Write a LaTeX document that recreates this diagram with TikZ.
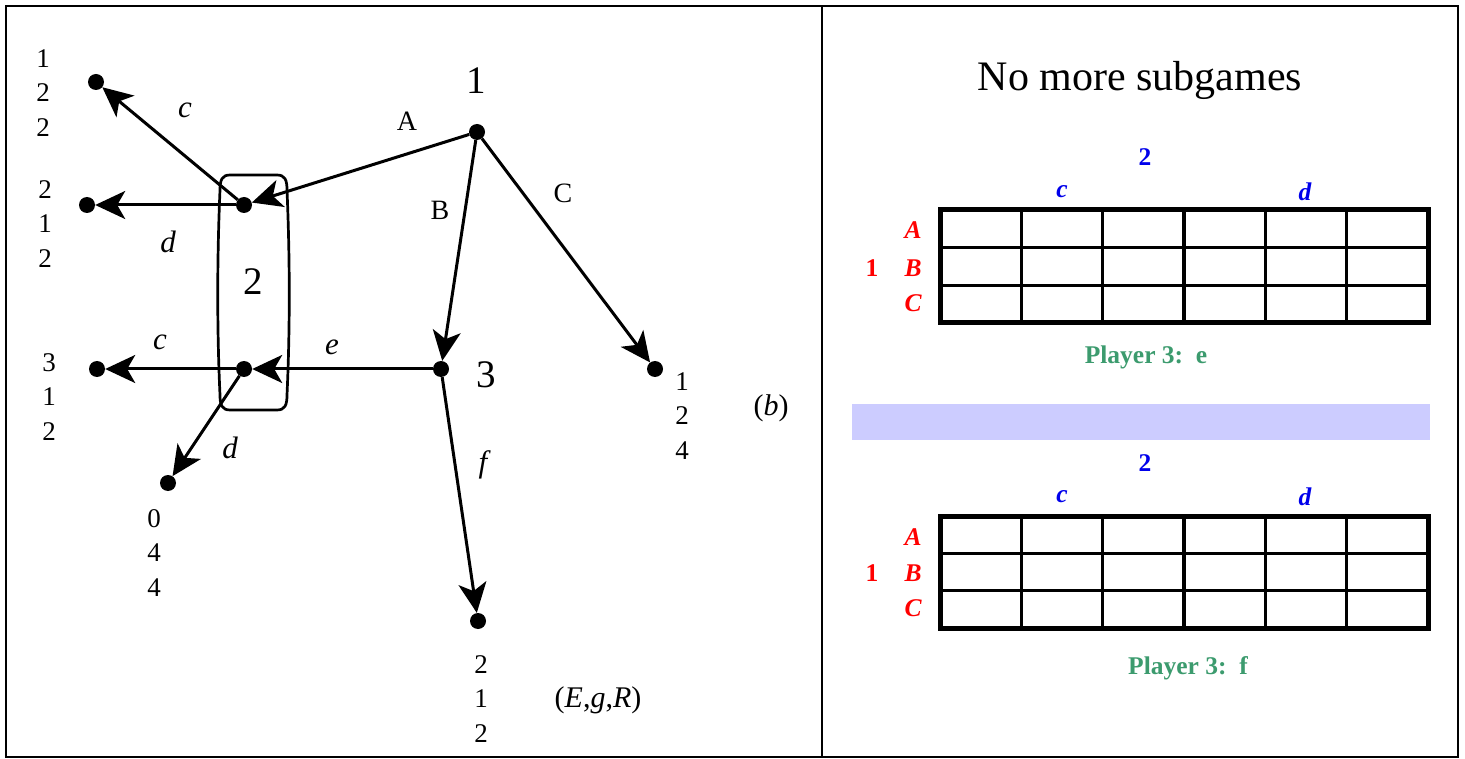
\documentclass[tikz,border=0pt]{standalone}
\usepackage{fontspec}
\setmainfont{Liberation Serif}
\usetikzlibrary{arrows.meta}
\definecolor{pblue}{RGB}{0,0,235}
\definecolor{pred}{RGB}{255,0,0}
\definecolor{pgreen}{RGB}{60,155,110}
\definecolor{lav}{RGB}{204,204,255}
\begin{document}
\begin{tikzpicture}[x=1pt,y=-1pt,
  dot/.style={circle,fill=black,inner sep=0pt,minimum size=16pt},
  gedge/.style={line width=3pt,-{Stealth[length=30pt,width=28pt,inset=8pt]}},
  pay/.style={align=center,font=\fontsize{27}{34.5}\selectfont,inner sep=0pt},
  plab/.style={font=\fontsize{39}{39}\selectfont,inner sep=0pt},
  elab/.style={font=\fontsize{28}{28}\selectfont,inner sep=0pt},
  ilab/.style={font=\fontsize{31}{31}\selectfont\itshape,inner sep=0pt},
  tbl/.style={font=\fontsize{25.5}{25.5}\selectfont\bfseries,inner sep=0pt},
  thin/.style={line width=2.5pt},
  thick/.style={line width=4.5pt},
  outer/.style={line width=5pt}
]
\useasboundingbox (0,0) rectangle (1465,759);
% frame
\draw[line width=2.5pt] (6,6) rectangle (1458,757);
\draw[line width=2.5pt] (822,6) -- (822,757);

% ---- game tree ----
\node[dot] (n1) at (477,132) {};
\node[dot] (n2a) at (244,205) {};
\node[dot] (n2b) at (244,369) {};
\node[dot] (n3) at (441,369) {};
\node[dot] (t1) at (96,82) {};
\node[dot] (t2) at (87,205) {};
\node[dot] (t3) at (97,369) {};
\node[dot] (t4) at (168,483) {};
\node[dot] (tC) at (655,369) {};
\node[dot] (tf) at (478,621) {};

% information set
\draw[line width=2.7pt] (230,175) -- (277,175)
  .. controls (285,175) and (287,180) .. (287,190)
  .. controls (290,260) and (290,330) .. (287,395)
  .. controls (287,405) and (285,410) .. (277,410)
  -- (230,410)
  .. controls (222,410) and (220,405) .. (220,395)
  .. controls (217,330) and (217,260) .. (220,190)
  .. controls (220,180) and (222,175) .. (230,175) -- cycle;

\draw[gedge] (n1) -- (n2a);
\draw[gedge] (n1) -- (n3);
\draw[gedge] (n1) -- (tC);
\draw[gedge] (n2a) -- (t1);
\draw[gedge] (n2a) -- (t2);
\draw[gedge] (n3) -- (n2b);
\draw[gedge] (n3) -- (tf);
\draw[gedge] (n2b) -- (t3);
\draw[gedge] (n2b) -- (t4);

% player labels
\node[plab] (l1) at (476,81) {1};
\node[plab] (l2) at (253,282) {2};
\node[plab] (l3) at (486,375) {3};

% action labels
\node[elab] (la) at (407,121) {A};
\node[elab] (lb) at (440,210) {B};
\node[elab] (lc) at (563,193) {C};
\node[ilab] (lc1) at (185,110) {c};
\node[ilab] (ld1) at (168,242) {d};
\node[ilab] (lc2) at (160,342) {c};
\node[ilab] (le) at (332,347) {e};
\node[ilab] (ld2) at (230,448) {d};
\node[ilab] (lf) at (483,465) {f};

% payoffs
\node[pay] (p1) at (43,93) {1\\2\\2};
\node[pay] (p2) at (45,224) {2\\1\\2};
\node[pay] (p3) at (49,397) {3\\1\\2};
\node[pay] (p4) at (154,553) {0\\4\\4};
\node[pay] (p5) at (682,416) {1\\2\\4};
\node[pay] (p6) at (481,699) {2\\1\\2};

\node[font=\fontsize{30}{30}\selectfont,inner sep=0pt] (lbl) at (771,408) {(\textit{b})};
\node[font=\fontsize{30}{30}\selectfont,inner sep=0pt] (egr) at (598,700) {(\textit{E},\textit{g},\textit{R})};

% ---- right panel ----
\node[font=\fontsize{42}{42}\selectfont,inner sep=0pt] (title) at (1140,80) {No more subgames};

% table 1
\node[tbl,text=pblue] (t1p2) at (1145,157) {2};
\node[tbl,text=pblue] (t1c) at (1062,192) {\itshape c};
\node[tbl,text=pblue] (t1d) at (1305,192) {\itshape d};
\node[tbl,text=pred] (t1A) at (913,230) {\itshape A};
\node[tbl,text=pred] (t1B) at (913,268) {\itshape B};
\node[tbl,text=pred] (t1C) at (913,303) {\itshape C};
\node[tbl,text=pred] (t1p1) at (872,268) {1};
\foreach \yy in {247.7,285.3} \draw[thin] (940,\yy) -- (1428,\yy);
\foreach \xx in {1021.3,1102.7,1265.3,1346.7} \draw[thin] (\xx,210) -- (\xx,323);
\draw[thick] (1184,210) -- (1184,323);
\draw[outer] (940,210) rectangle (1428,323);
\node[tbl,text=pgreen] (t1pl) at (1146,357) {Player 3:\ \ e};

% separator bar
\fill[lav] (852,404) rectangle (1430,440);

% table 2
\node[tbl,text=pblue] (t2p2) at (1145,463) {2};
\node[tbl,text=pblue] (t2c) at (1062,497) {\itshape c};
\node[tbl,text=pblue] (t2d) at (1305,497) {\itshape d};
\node[tbl,text=pred] (t2A) at (913,537) {\itshape A};
\node[tbl,text=pred] (t2B) at (913,573) {\itshape B};
\node[tbl,text=pred] (t2C) at (913,608) {\itshape C};
\node[tbl,text=pred] (t2p1) at (872,573) {1};
\foreach \yy in {553.3,590.7} \draw[thin] (940,\yy) -- (1428,\yy);
\foreach \xx in {1021.3,1102.7,1265.3,1346.7} \draw[thin] (\xx,516) -- (\xx,628);
\draw[thick] (1184,516) -- (1184,628);
\draw[outer] (940,516) rectangle (1428,628);
\node[tbl,text=pgreen] (t2pl) at (1188,668) {Player 3:\ \ f};
\end{tikzpicture}
\end{document}
